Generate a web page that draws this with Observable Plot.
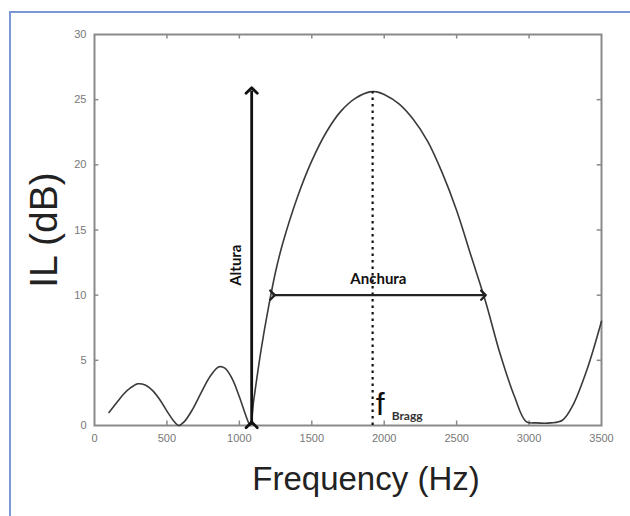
<!DOCTYPE html>
<html>
<head>
<meta charset="utf-8">
<script src="https://cdn.jsdelivr.net/npm/d3@7"></script>
<script src="https://cdn.jsdelivr.net/npm/@observablehq/plot@0.6"></script>
<style>
  html, body { margin: 0; padding: 0; background: #fff; overflow: hidden; }
  #wrap { position: relative; width: 630px; height: 516px; }
  #border { position: absolute; left: 9px; top: 11px; width: 700px; height: 600px;
            border-left: 2px solid #7d97d4; border-top: 2px solid #7d97d4; }
  #chart { position: absolute; left: 0; top: 0; }
</style>
</head>
<body>
<div id="wrap"><div id="border"></div><div id="chart"></div></div>
<script>
// Frequency (Hz) and insertion loss (dB)
const freq = [100,150,200,250,300,350,400,450,500,550,580,620,680,740,800,860,900,950,1000,1050,1075,
  1100,1150,1200,1250,1300,1400,1500,1600,1700,1800,1900,1950,2000,2100,2200,2300,2400,2500,2600,2700,2800,2900,2980,
  3050,3150,3230,3300,3400,3500];
const il = [1.0,1.7,2.4,2.9,3.2,3.1,2.7,2.0,1.1,0.3,0.0,0.3,1.3,2.6,3.8,4.5,4.4,3.6,2.2,0.6,0.0,
  2.0,5.8,9.0,11.8,14.0,17.5,20.3,22.5,24.1,25.1,25.6,25.6,25.4,24.7,23.5,21.8,19.4,16.5,13.0,9.5,5.5,2.2,0.3,
  0.2,0.2,0.4,1.5,4.3,8.0];
const xTicks = [0,500,1000,1500,2000,2500,3000,3500];
const yTicks = [0,5,10,15,20,25,30];

// annotations
const fBragg = 1920, peak = 25.6;
const alturaX = 1085, alturaTop = 25.7;
const anchuraY = 10, anchuraX1 = 1229, anchuraX2 = 2685;

const data = freq.map((f, i) => ({f, v: il[i]}));
const gray = "#8a8a8a";

const chart = Plot.plot({
  width: 630, height: 516,
  marginLeft: 94, marginRight: 29, marginTop: 34, marginBottom: 91,
  style: {fontFamily: "'Liberation Sans', Arial, sans-serif", background: "transparent"},
  x: {domain: [0, 3500]},
  y: {domain: [0, 30]},
  marks: [
    Plot.axisX({ticks: xTicks, tickSize: 0, tickPadding: 9, fontSize: 11, color: "#777", label: null, tickFormat: d3.format("d")}),
    Plot.axisY({ticks: yTicks, tickSize: 0, tickPadding: 8, fontSize: 11, color: "#777", label: null, tickFormat: d3.format("d")}),
    // inward ticks on all four sides
    Plot.ruleX(xTicks.slice(1, -1), {y1: 0, y2: 0.35, stroke: gray, strokeWidth: 1.5}),
    Plot.ruleX(xTicks.slice(1, -1), {y1: 30, y2: 29.65, stroke: gray, strokeWidth: 1.5}),
    Plot.ruleY(yTicks.slice(1, -1), {x1: 0, x2: 30, stroke: gray, strokeWidth: 1.5}),
    Plot.ruleY(yTicks.slice(1, -1), {x1: 3500, x2: 3470, stroke: gray, strokeWidth: 1.5}),
    Plot.frame({stroke: gray, strokeWidth: 2}),
    Plot.line(data, {x: "f", y: "v", curve: "catmull-rom", stroke: "#3a3a3a", strokeWidth: 1.6}),
    // dotted f_Bragg line
    Plot.ruleX([fBragg], {y1: 0, y2: peak, stroke: "#111", strokeWidth: 2.2, strokeDasharray: "2.5,4"}),
    // Altura double arrow
    Plot.link([{}], {x1: alturaX, x2: alturaX, y1: 0.05, y2: alturaTop, stroke: "#111", strokeWidth: 2.8,
      markerStart: "arrow", markerEnd: "arrow"}),
    // Anchura double arrow
    Plot.link([{}], {x1: anchuraX1, x2: anchuraX2, y1: anchuraY, y2: anchuraY, stroke: "#222", strokeWidth: 2.3,
      markerStart: "arrow", markerEnd: "arrow"}),
    Plot.text(["Altura"], {x: 975, y: 12.3, text: d => d, rotate: -90, fontSize: 15,
      fontWeight: "bold", fontFamily: "Lato, 'Open Sans', sans-serif", fill: "#111"}),
    Plot.text(["Anchura"], {x: 1960, y: anchuraY, text: d => d, dy: -16, fontSize: 15,
      fontWeight: "bold", fontFamily: "Lato, 'Open Sans', sans-serif", fill: "#111"}),
    Plot.text(["f"], {x: fBragg, y: 0, text: d => d, textAnchor: "start", dx: 3, dy: -21, fontSize: 32,
      fontFamily: "'Liberation Sans', Arial, sans-serif", fill: "#111"}),
    Plot.text(["Bragg"], {x: fBragg, y: 0, text: d => d, textAnchor: "start", dx: 19, dy: -9, fontSize: 12,
      fontWeight: "bold", fontFamily: "Lato, 'Open Sans', sans-serif", fill: "#333"}),
    // axis titles
    Plot.text(["IL (dB)"], {x: -345, y: 15, text: d => d, rotate: -90, fontSize: 39, fill: "#222"}),
    Plot.text(["Frequency (Hz)"], {frameAnchor: "bottom", text: d => d, dx: 18, dy: 64, fontSize: 33,
      fill: "#222"})
  ]
});
document.getElementById("chart").appendChild(chart);
</script>
</body>
</html>
